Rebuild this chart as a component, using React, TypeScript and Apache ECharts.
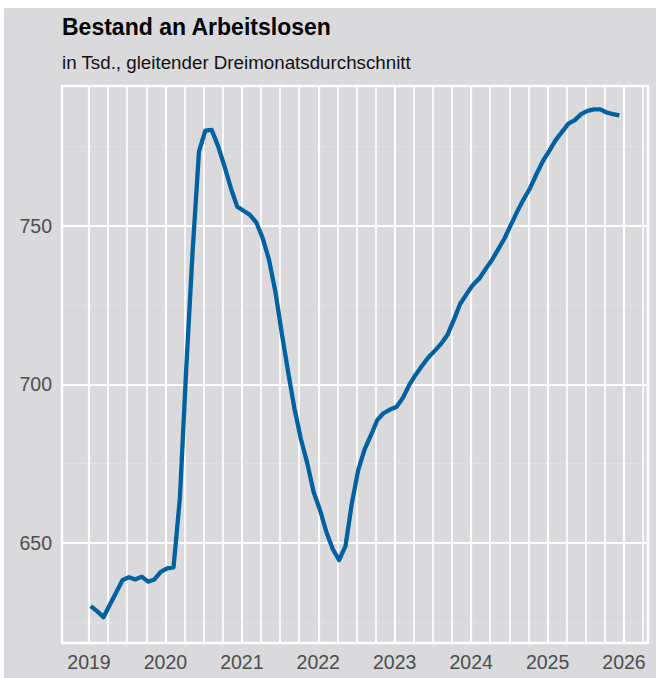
import React, { useEffect, useRef } from "react";
import * as echarts from "echarts";

// ---- data ----
const startYear = 2019;
const monthValues2019 = [630.1, 628.5, 626.6, 630.5, 634.4, 638.3, 639.2, 638.5, 639.4, 637.8, 638.5, 640.9];
const monthValues2020 = [642.0, 642.3, 664.0, 705.0, 742.0, 773.5, 780.1, 780.3, 775.2, 768.9, 762.0, 756.1];
const monthValues2021 = [754.8, 753.5, 751.1, 746.2, 739.3, 729.2, 716.2, 703.9, 692.3, 682.8, 675.2, 666.1];
const monthValues2022 = [660.4, 653.5, 648.1, 644.6, 649.0, 662.5, 673.0, 679.5, 684.0, 688.8, 691.0, 692.1];
const monthValues2023 = [692.9, 695.7, 699.8, 703.0, 705.8, 708.5, 710.6, 712.8, 715.6, 720.3, 725.4, 728.5];
const monthValues2024 = [731.4, 733.4, 736.4, 739.3, 742.7, 746.2, 750.5, 754.7, 758.5, 762.0, 766.4, 770.5];
const monthValues2025 = [773.7, 777.1, 779.7, 782.3, 783.4, 785.3, 786.3, 786.8, 786.8, 785.8, 785.3, 784.9];
const yearlyValues = [
  monthValues2019, monthValues2020, monthValues2021, monthValues2022,
  monthValues2023, monthValues2024, monthValues2025,
];

const xTickYears = [2019, 2020, 2021, 2022, 2023, 2024, 2025, 2026];
const yMajorTicks = [650, 700, 750];
const yMinorTicks = [625, 675, 725, 775];
const quarterFractions = [0.25, 0.5, 0.75];

const titleText = "Bestand an Arbeitslosen";
const subtitleText = "in Tsd., gleitender Dreimonatsdurchschnitt";

// ---- layout / style ----
const PAGE_W = 656;
const PAGE_H = 678;
const OFF_L = 4;
const OFF_T = 8;
const BG = "#dadadc";
const LINE_COLOR = "#0061a0";
const FONT = "'Liberation Sans', Arial, sans-serif";
const DAY_SHIFT = 0.27; // month fraction offset of data points

export default function App() {
  const ref = useRef<HTMLDivElement>(null);

  useEffect(() => {
    if (!ref.current) return;
    const chart = echarts.init(ref.current, undefined, { renderer: "svg" });

    const seriesData: [number, number][] = [];
    yearlyValues.forEach((vals, yi) => {
      vals.forEach((v, mi) => {
        seriesData.push([startYear + yi + (mi + DAY_SHIFT) / 12, v]);
      });
    });

    const gridLeft = 62 - OFF_L;
    const gridTop = 86 - OFF_T;
    const gridW = 586;
    const gridH = 557;

    const vLines: any[] = [];
    xTickYears.forEach((y) => {
      vLines.push({ xAxis: y, lineStyle: { color: "#ffffff", width: 2.2, type: "solid" } });
      quarterFractions.forEach((q) => {
        const v = y + q;
        if (v < 2026.31) {
          vLines.push({ xAxis: v, lineStyle: { color: "#ffffff", width: 1.6, type: "solid" } });
        }
      });
    });
    const hLines: any[] = [];
    yMinorTicks.forEach((v) =>
      hLines.push({ yAxis: v, lineStyle: { color: "rgba(255,255,255,0.75)", width: 1, type: [1, 3] } })
    );
    yMajorTicks.forEach((v) =>
      hLines.push({ yAxis: v, lineStyle: { color: "#ffffff", width: 2.2, type: "solid" } })
    );

    chart.setOption({
      animation: false,
      backgroundColor: BG,
      textStyle: { fontFamily: FONT },
      graphic: [
        {
          type: "text",
          x: 62 - OFF_L,
          y: 27 - OFF_T,
          style: {
            text: titleText,
            fontSize: 23,
            fontWeight: "bold",
            fontFamily: FONT,
            fill: "#000000",
            verticalAlign: "middle",
          },
        },
        {
          type: "text",
          x: 62 - OFF_L,
          y: 62 - OFF_T,
          style: {
            text: subtitleText,
            fontSize: 18.75,
            fontFamily: FONT,
            fill: "#111111",
            verticalAlign: "middle",
          },
        },
      ],
      grid: {
        left: gridLeft,
        top: gridTop,
        width: gridW,
        height: gridH,
        show: true,
        backgroundColor: BG,
        borderColor: "#ffffff",
        borderWidth: 2.5,
      },
      xAxis: {
        type: "value",
        min: 2018.647,
        max: 2026.314,
        axisLine: { show: false },
        axisTick: { show: false },
        splitLine: { show: false },
        axisLabel: {
          customValues: xTickYears,
          formatter: (v: number) => String(Math.round(v)),
          fontSize: 19.5,
          color: "#4d4d4d",
          fontFamily: FONT,
          margin: 9,
          showMinLabel: true,
          showMaxLabel: true,
        },
      },
      yAxis: {
        type: "value",
        min: 618.45,
        max: 794.16,
        axisLine: { show: false },
        axisTick: { show: false },
        splitLine: { show: false },
        axisLabel: {
          customValues: yMajorTicks,
          fontSize: 19.5,
          color: "#4d4d4d",
          fontFamily: FONT,
          margin: 10,
        },
      },
      series: [
        {
          type: "line",
          data: [],
          z: 1,
          silent: true,
          markLine: {
            silent: true,
            z: 1,
            symbol: ["none", "none"],
            label: { show: false },
            emphasis: { disabled: true },
            data: [...hLines, ...vLines],
          },
        },
        {
          type: "line",
          data: seriesData,
          z: 10,
          showSymbol: false,
          smooth: false,
          lineStyle: { color: LINE_COLOR, width: 4.3, cap: "butt", join: "round" },
          emphasis: { disabled: true },
        },
      ],
    });

    return () => chart.dispose();
  }, []);

  return (
    <div
      ref={ref}
      style={{
        position: "absolute",
        left: OFF_L,
        top: OFF_T,
        width: PAGE_W - OFF_L,
        height: PAGE_H - OFF_T,
      }}
    />
  );
}
